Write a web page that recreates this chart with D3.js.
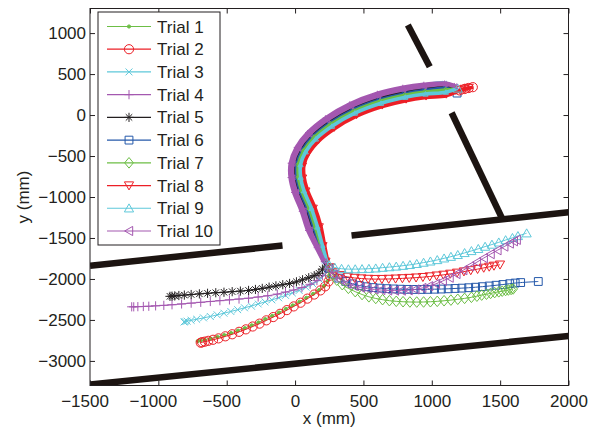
<!DOCTYPE html>
<html>
<head>
<meta charset="utf-8">
<script src="https://cdnjs.cloudflare.com/ajax/libs/d3/7.8.5/d3.min.js"></script>
<style>
  body { margin: 0; background: #fff; }
  text { font-family: "Liberation Sans", Arial, Helvetica, sans-serif; }
</style>
</head>
<body>
<svg id="chart" width="595" height="430"></svg>
<script>
// axis ticks
const xTicks = [-1500, -1000, -500, 0, 500, 1000, 1500, 2000];
const yTicks = [-3000, -2500, -2000, -1500, -1000, -500, 0, 500, 1000];

const trialNames = ["Trial 1", "Trial 2", "Trial 3", "Trial 4", "Trial 5",
                    "Trial 6", "Trial 7", "Trial 8", "Trial 9", "Trial 10"];

// walls (mm): each one is a segment
const walls = [
  [[825, 1100], [985, 590]],
  [[1145, 28], [1515, -1265]],
  [[413, -1470], [2000, -1185]],
  [[-1500, -1838], [-92, -1593]],
  [[-1500, -3288], [2000, -2696]]
];

// trajectories (mm): the shared approach, then the branch after the crossing
const t1Approach = [[1165,340],[1098,356],[947,332],[795,291],[613,216],[415,91],[241,-75],[116,-245],[37,-416],[-5,-595],[-5,-761],[20,-936],[75,-1160],[121,-1391],[173,-1607],[216,-1784]];
const t1Branch = [[240,-1875],[248,-1960],[238,-2025],[212,-2085],[176,-2135],[132,-2182],[82,-2230],[32,-2278],[-18,-2322],[-68,-2366],[-118,-2410],[-168,-2450],[-218,-2490],[-268,-2530],[-318,-2565],[-368,-2600],[-418,-2630],[-468,-2660],[-518,-2685],[-568,-2708],[-618,-2728],[-660,-2742],[-690,-2752],[-712,-2758]];

const t2Approach = [[1300,340],[1270,330],[1240,318],[1205,300],[1104,262],[956,239],[808,200],[633,127],[443,9],[276,-149],[160,-302],[87,-455],[50,-608],[51,-758],[75,-920],[129,-1133],[174,-1360],[206,-1587],[232,-1774]];
const t2Branch = [[250,-1870],[255,-1960],[245,-2030],[220,-2090],[185,-2140],[140,-2190],[90,-2240],[40,-2290],[-10,-2335],[-60,-2380],[-110,-2425],[-160,-2465],[-210,-2505],[-260,-2545],[-310,-2580],[-360,-2615],[-410,-2645],[-460,-2675],[-510,-2700],[-560,-2725],[-600,-2742],[-635,-2755],[-660,-2765],[-680,-2772],[-690,-2778]];

const t3Approach = [[1165,350],[1095,391],[944,366],[790,324],[606,249],[405,121],[228,-48],[100,-224],[18,-402],[-25,-590],[-26,-762],[0,-942],[56,-1170],[102,-1402],[161,-1614],[210,-1787]];
const t3Branch = [[235,-1870],[215,-1950],[180,-2010],[130,-2060],[80,-2100],[30,-2140],[-20,-2170],[-70,-2200],[-120,-2230],[-170,-2255],[-220,-2280],[-270,-2305],[-320,-2330],[-370,-2352],[-420,-2375],[-470,-2397],[-520,-2418],[-570,-2438],[-620,-2458],[-670,-2475],[-720,-2492],[-760,-2505],[-790,-2515],[-805,-2520],[-812,-2525]];

const t4Approach = [[1165,360],[1094,390],[942,375],[788,338],[602,265],[400,136],[222,-35],[92,-214],[9,-395],[-35,-588],[-36,-763],[-10,-945],[46,-1175],[92,-1408],[155,-1618],[207,-1789]];
const t4Branch = [[225,-1880],[200,-1960],[160,-2020],[110,-2065],[50,-2105],[-10,-2135],[-70,-2160],[-130,-2185],[-200,-2205],[-270,-2220],[-340,-2235],[-410,-2245],[-480,-2255],[-550,-2265],[-620,-2275],[-690,-2285],[-760,-2295],[-830,-2305],[-900,-2315],[-960,-2322],[-1020,-2328],[-1070,-2333],[-1110,-2336],[-1150,-2338],[-1180,-2340],[-1195,-2340]];

const t5Approach = [[1165,335],[1099,339],[948,315],[798,275],[616,200],[420,76],[248,-89],[124,-256],[46,-423],[5,-598],[5,-761],[30,-933],[85,-1155],[130,-1386],[179,-1604],[219,-1782]];
const t5Branch = [[200,-1880],[175,-1930],[140,-1960],[100,-1985],[55,-2010],[10,-2035],[-40,-2055],[-90,-2070],[-140,-2085],[-190,-2100],[-240,-2115],[-290,-2128],[-340,-2140],[-400,-2148],[-460,-2155],[-520,-2162],[-580,-2168],[-640,-2175],[-700,-2182],[-760,-2190],[-810,-2197],[-850,-2202],[-880,-2207],[-900,-2210],[-915,-2212]];

const t6Approach = [[1185,268],[1100,322],[950,298],[800,258],[620,184],[425,61],[254,-102],[132,-266],[55,-430],[15,-600],[15,-760],[40,-930],[95,-1150],[140,-1380],[185,-1600],[222,-1780]];
const t6Branch = [[250,-1870],[280,-1940],[320,-1990],[370,-2030],[420,-2060],[470,-2080],[520,-2095],[570,-2105],[620,-2112],[670,-2118],[720,-2122],[770,-2125],[820,-2127],[870,-2128],[920,-2128],[970,-2127],[1020,-2125],[1070,-2123],[1120,-2120],[1170,-2116],[1220,-2112],[1270,-2107],[1320,-2101],[1370,-2094],[1420,-2086],[1470,-2077],[1520,-2068],[1570,-2058],[1610,-2050],[1650,-2044],[1779,-2031]];

const t7Approach = [[1170,320],[1101,305],[952,281],[802,241],[624,168],[430,46],[260,-115],[140,-276],[64,-437],[25,-602],[25,-759],[50,-927],[105,-1145],[150,-1374],[191,-1596],[225,-1778]];
const t7Branch = [[250,-1870],[275,-1950],[305,-2015],[345,-2070],[390,-2115],[440,-2155],[490,-2190],[540,-2218],[590,-2238],[640,-2253],[690,-2265],[740,-2273],[790,-2278],[840,-2281],[890,-2282],[940,-2281],[990,-2278],[1040,-2273],[1090,-2266],[1140,-2258],[1190,-2248],[1240,-2237],[1290,-2224],[1330,-2210],[1365,-2197],[1400,-2186],[1430,-2176],[1460,-2166],[1490,-2157],[1515,-2149],[1540,-2141],[1560,-2135],[1580,-2128],[1595,-2122]];

const t8Approach = [[1270,330],[1240,318],[1210,300],[1106,236],[958,213],[812,175],[638,103],[450,-14],[286,-169],[172,-318],[101,-465],[65,-612],[66,-757],[90,-915],[144,-1125],[188,-1352],[215,-1582],[237,-1771]];
const t8Branch = [[255,-1860],[290,-1920],[335,-1955],[385,-1975],[435,-1988],[485,-1995],[535,-2000],[585,-2002],[635,-2002],[685,-2000],[735,-1997],[785,-1993],[835,-1989],[885,-1984],[935,-1978],[985,-1970],[1035,-1960],[1085,-1950],[1135,-1938],[1185,-1925],[1235,-1910],[1285,-1895],[1335,-1880],[1380,-1865],[1420,-1852],[1455,-1840],[1499,-1826]];

const t9Approach = [[1190,325],[1103,279],[954,256],[806,217],[629,144],[438,24],[270,-136],[152,-292],[78,-448],[40,-606],[41,-759],[65,-923],[120,-1138],[164,-1366],[200,-1591],[230,-1776]];
const t9Branch = [[250,-1830],[290,-1860],[340,-1875],[390,-1880],[440,-1880],[490,-1878],[540,-1875],[590,-1870],[640,-1862],[690,-1855],[740,-1847],[790,-1838],[840,-1828],[890,-1815],[940,-1800],[990,-1785],[1040,-1768],[1090,-1748],[1140,-1728],[1190,-1706],[1240,-1682],[1290,-1658],[1340,-1632],[1390,-1605],[1440,-1580],[1490,-1553],[1540,-1525],[1590,-1498],[1630,-1475],[1694,-1442]];

const t10Approach = [[1170,350],[1096,374],[945,349],[793,308],[609,233],[410,106],[235,-62],[108,-235],[27,-409],[-15,-593],[-16,-762],[10,-939],[66,-1165],[111,-1397],[167,-1611],[213,-1785]];
const t10Branch = [[245,-1880],[285,-1950],[330,-2010],[380,-2055],[430,-2085],[480,-2105],[530,-2118],[580,-2128],[630,-2135],[680,-2140],[730,-2142],[780,-2142],[830,-2138],[880,-2128],[930,-2110],[980,-2088],[1030,-2060],[1080,-2025],[1130,-1985],[1180,-1940],[1230,-1893],[1280,-1845],[1330,-1795],[1380,-1745],[1430,-1697],[1480,-1650],[1530,-1605],[1570,-1568],[1600,-1540],[1621,-1523]];

// colours / markers, MATLAB style
const green = "#6cbe45", red = "#ec1f26", cyan = "#5ec8da", purple = "#a458b0",
      black = "#231f20", blue = "#2458aa";
const trialStyle = [
  { color: green,  marker: "." },
  { color: red,    marker: "o" },
  { color: cyan,   marker: "x" },
  { color: purple, marker: "+" },
  { color: black,  marker: "*" },
  { color: blue,   marker: "s" },
  { color: green,  marker: "d" },
  { color: red,    marker: "v" },
  { color: cyan,   marker: "^" },
  { color: purple, marker: "<" }
];

const trials = [
  [t1Approach, t1Branch], [t2Approach, t2Branch], [t3Approach, t3Branch],
  [t4Approach, t4Branch], [t5Approach, t5Branch], [t6Approach, t6Branch],
  [t7Approach, t7Branch], [t8Approach, t8Branch], [t9Approach, t9Branch],
  [t10Approach, t10Branch]
];

const svg = d3.select("#chart");
const mLeft = 90, mRight = 568.5, mTop = 8.5, mBottom = 385.5;

const x = d3.scaleLinear().domain([-1500, 2000]).range([mLeft, mRight]);
const y = d3.scaleLinear().domain([-3300, 1300]).range([mBottom, mTop]);

svg.append("rect").attr("width", 595).attr("height", 430).attr("fill", "#fff");

svg.append("clipPath").attr("id", "plotclip")
  .append("rect").attr("x", mLeft).attr("y", mTop)
  .attr("width", mRight - mLeft).attr("height", mBottom - mTop);

const plot = svg.append("g").attr("clip-path", "url(#plotclip)");

// walls
plot.selectAll("line.wall")
  .data(walls)
  .enter()
  .append("line")
  .attr("class", "wall")
  .attr("x1", d => x(d[0][0])).attr("y1", d => y(d[0][1]))
  .attr("x2", d => x(d[1][0])).attr("y2", d => y(d[1][1]))
  .attr("stroke", "#1c1411")
  .attr("stroke-width", 6.5);

// marker shapes, s is half size in px
function markerPath(type, s) {
  const p = d3.path();
  if (type === "o" || type === ".") {
    p.moveTo(s, 0); p.arc(0, 0, s, 0, 2 * Math.PI);
  } else if (type === "x") {
    const a = s * 0.75;
    p.moveTo(-a, -a); p.lineTo(a, a); p.moveTo(-a, a); p.lineTo(a, -a);
  } else if (type === "+") {
    p.moveTo(-s, 0); p.lineTo(s, 0); p.moveTo(0, -s); p.lineTo(0, s);
  } else if (type === "*") {
    const a = s * 0.7;
    p.moveTo(-s, 0); p.lineTo(s, 0); p.moveTo(0, -s); p.lineTo(0, s);
    p.moveTo(-a, -a); p.lineTo(a, a); p.moveTo(-a, a); p.lineTo(a, -a);
  } else if (type === "s") {
    const a = s * 0.85;
    p.rect(-a, -a, 2 * a, 2 * a);
  } else if (type === "d") {
    p.moveTo(0, -s * 1.15); p.lineTo(s * 0.95, 0); p.lineTo(0, s * 1.15); p.lineTo(-s * 0.95, 0); p.closePath();
  } else if (type === "v") {
    p.moveTo(-s, -s * 0.8); p.lineTo(s, -s * 0.8); p.lineTo(0, s * 0.95); p.closePath();
  } else if (type === "^") {
    p.moveTo(-s, s * 0.8); p.lineTo(s, s * 0.8); p.lineTo(0, -s * 0.95); p.closePath();
  } else if (type === "<") {
    p.moveTo(s * 0.8, -s); p.lineTo(s * 0.8, s); p.lineTo(-s * 0.95, 0); p.closePath();
  }
  return p.toString();
}

function drawMarkers(g, pts, style, s) {
  g.selectAll(null)
    .data(pts)
    .enter()
    .append("path")
    .attr("transform", d => `translate(${x(d[0])},${y(d[1])})`)
    .attr("d", markerPath(style.marker, style.marker === "." ? s * 0.35 : s))
    .attr("fill", style.marker === "." ? style.color : "none")
    .attr("stroke", style.color)
    .attr("stroke-width", 1);
}

const line = d3.line()
  .x(d => x(d[0]))
  .y(d => y(d[1]))
  .curve(d3.curveCatmullRom.alpha(0.5));

const bigFromX = 1180; // start markers drawn full size

trials.forEach(([approach, branch], i) => {
  const st = trialStyle[i];
  const g = plot.append("g");
  // the dense common part looks like a solid band
  g.append("path").attr("d", line(approach))
    .attr("fill", "none").attr("stroke", st.color).attr("stroke-width", 3.6);
  g.append("path").attr("d", line(approach.concat(branch)))
    .attr("fill", "none").attr("stroke", st.color).attr("stroke-width", 1);
  drawMarkers(g, approach.filter(d => d[0] < bigFromX), st, 2.6);
  drawMarkers(g, approach.filter(d => d[0] >= bigFromX), st, 4.6);
  drawMarkers(g, branch, st, 4.6);
});

// axes (ticks inward on all four sides)
const fontSize = "17px";
const fmt = d3.format("d");
const xAxisG = svg.append("g").attr("transform", `translate(0,${mBottom})`)
  .call(d3.axisBottom(x).tickValues(xTicks).tickFormat(fmt).tickSizeInner(-5).tickSizeOuter(0).tickPadding(9));
svg.append("g").attr("transform", `translate(${mLeft},0)`)
  .call(d3.axisLeft(y).tickValues(yTicks).tickFormat(fmt).tickSizeInner(-5).tickSizeOuter(0).tickPadding(4));
svg.append("g").attr("transform", `translate(0,${mTop})`)
  .call(d3.axisTop(x).tickValues(xTicks).tickSizeInner(-5).tickSizeOuter(0).tickFormat(""));
svg.append("g").attr("transform", `translate(${mRight},0)`)
  .call(d3.axisRight(y).tickValues(yTicks).tickSizeInner(-5).tickSizeOuter(0).tickFormat(""));

svg.selectAll(".domain").remove();
svg.selectAll(".tick line").attr("stroke", "#231f20");
svg.selectAll(".tick text").attr("font-size", fontSize).attr("fill", "#231f20")
  .attr("font-family", "'Liberation Sans', Arial, sans-serif");
// digits sit centred on the tick, the minus sign hangs to the left
xAxisG.selectAll(".tick text").attr("dx", d => d < 0 ? -5.5 : 0);

svg.append("rect")
  .attr("x", mLeft).attr("y", mTop)
  .attr("width", mRight - mLeft).attr("height", mBottom - mTop)
  .attr("fill", "none").attr("stroke", "#231f20").attr("stroke-width", 1);

// axis labels
svg.append("text")
  .attr("x", (mLeft + mRight) / 2).attr("y", 424)
  .attr("text-anchor", "middle").attr("font-size", "17px").attr("fill", "#231f20")
  .text("x (mm)");
svg.append("text")
  .attr("transform", `translate(29,${(mTop + mBottom) / 2}) rotate(-90)`)
  .attr("text-anchor", "middle").attr("font-size", "17px").attr("fill", "#231f20")
  .text("y (mm)");

// legend
const legend = svg.append("g");
legend.append("rect")
  .attr("x", 98).attr("y", 12).attr("width", 122).attr("height", 233)
  .attr("fill", "#fff").attr("stroke", "#231f20").attr("stroke-width", 1);

trialNames.forEach((name, i) => {
  const st = trialStyle[i];
  const ry = 26.5 + i * 22.72;
  const row = legend.append("g");
  row.append("line").attr("x1", 107).attr("x2", 151).attr("y1", ry).attr("y2", ry)
    .attr("stroke", st.color).attr("stroke-width", 1.2);
  row.append("path")
    .attr("transform", `translate(129,${ry})`)
    .attr("d", markerPath(st.marker, st.marker === "." ? 1.6 : 4.6))
    .attr("fill", st.marker === "." ? st.color : "none")
    .attr("stroke", st.color).attr("stroke-width", 1);
  row.append("text").attr("x", 157).attr("y", ry + 6)
    .attr("font-size", fontSize).attr("fill", "#231f20")
    .text(name);
});
</script>
</body>
</html>
